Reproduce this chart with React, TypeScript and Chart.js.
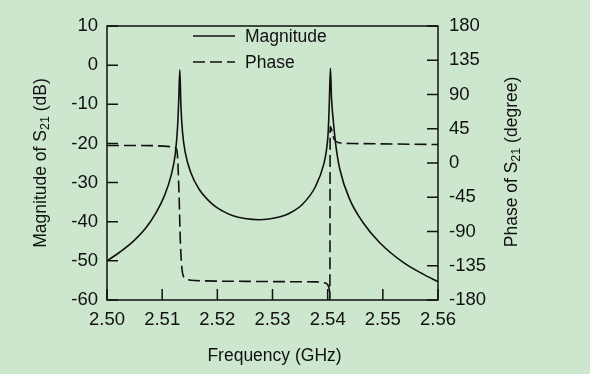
import React, { useEffect, useRef } from "react";
import { Chart, registerables } from "chart.js";

Chart.register(...registerables);

// Frequency (GHz) and |S21| (dB)
const magFreq = [
  2.5, 2.5023, 2.5047, 2.5071, 2.5089, 2.5104, 2.5116, 2.5124, 2.5128, 2.513, 2.5132,
  2.5134, 2.5137, 2.5142, 2.5152, 2.5167, 2.5191, 2.521, 2.5227, 2.525, 2.5276, 2.5294,
  2.5312, 2.533, 2.5354, 2.5378, 2.5393, 2.5398, 2.5401, 2.5403, 2.5405, 2.5407, 2.541,
  2.5415, 2.5422, 2.544, 2.5464, 2.5494, 2.5537, 2.5573, 2.56,
];
const magDb = [
  -50.0, -47.8, -45.1, -41.5, -37.7, -33.4, -28.3, -22.4, -15.6, -9.0, -1.2,
  -10.5, -17.3, -22.4, -27.5, -31.7, -35.5, -37.3, -38.4, -39.2, -39.5, -39.3,
  -38.8, -37.9, -35.6, -31.0, -25.3, -21.5, -17.0, -9.5, -0.8, -8.5, -13.9,
  -20.7, -26.6, -34.3, -40.2, -45.3, -50.4, -53.4, -55.3,
];

// Frequency (GHz) and phase of S21 (degree)
const phaseFreq = [
  2.5, 2.508, 2.5115, 2.5124, 2.5127, 2.51305, 2.5133, 2.51367, 2.5143, 2.5162, 2.525,
  2.535, 2.538, 2.5395, 2.5402, 2.54037, 2.5404, 2.54045, 2.5412, 2.5421, 2.5446, 2.56,
];
const phaseDeg = [
  23.0, 22.8, 21.5, 20.0, 15.6, -38.9, -104, -143.6, -152.3, -154.5, -155.5,
  -156.0, -156.2, -157.6, -163, -174, -180, 48, 30.9, 26.6, 25.6, 24.3,
];

const xTicks = [2.5, 2.51, 2.52, 2.53, 2.54, 2.55, 2.56];
const magTicks = [-60, -50, -40, -30, -20, -10, 0, 10];
const phaseTicks = [-180, -135, -90, -45, 0, 45, 90, 135, 180];

const seriesNames = ["Magnitude", "Phase"];
const xTitle = "Frequency (GHz)";
const magTitle = ["Magnitude of S", "21", " (dB)"];
const phaseTitle = ["Phase of S", "21", " (degree)"];

const FONT = '"Liberation Sans", Arial, Helvetica, sans-serif';
const INK = "#111111";
const BG = "#cde7cf";
const DASH = [12, 5];

function drawSubTitle(ctx: CanvasRenderingContext2D, parts: string[], cx: number, cy: number, rotate: boolean) {
  const big = `17.5px ${FONT}`;
  const small = `12.5px ${FONT}`;
  ctx.save();
  ctx.font = big;
  const w0 = ctx.measureText(parts[0]).width;
  const w2 = ctx.measureText(parts[2]).width;
  ctx.font = small;
  const w1 = ctx.measureText(parts[1]).width;
  const total = w0 + w1 + w2;
  ctx.translate(cx, cy);
  if (rotate) ctx.rotate(-Math.PI / 2);
  ctx.fillStyle = INK;
  ctx.textBaseline = "middle";
  ctx.textAlign = "left";
  let x = -total / 2;
  ctx.font = big;
  ctx.fillText(parts[0], x, 0);
  x += w0;
  ctx.font = small;
  ctx.fillText(parts[1], x, 5);
  x += w1;
  ctx.font = big;
  ctx.fillText(parts[2], x, 0);
  ctx.restore();
}

const framePlugin = {
  id: "frame",
  afterDraw(chart: any) {
    const { ctx, chartArea: ca, scales } = chart;
    ctx.save();
    ctx.strokeStyle = INK;
    ctx.lineWidth = 1.5;
    ctx.setLineDash([]);
    ctx.strokeRect(ca.left, ca.top, ca.right - ca.left, ca.bottom - ca.top);
    const TL = 11;
    ctx.beginPath();
    magTicks.forEach((v) => {
      const y = scales.y.getPixelForValue(v);
      ctx.moveTo(ca.left, y);
      ctx.lineTo(ca.left + TL, y);
    });
    phaseTicks.forEach((v) => {
      const y = scales.y1.getPixelForValue(v);
      ctx.moveTo(ca.right, y);
      ctx.lineTo(ca.right - TL, y);
    });
    xTicks.forEach((v) => {
      const x = scales.x.getPixelForValue(v);
      ctx.moveTo(x, ca.bottom);
      ctx.lineTo(x, ca.bottom - TL);
    });
    ctx.stroke();

    // legend
    const lx0 = ca.left + 86;
    const lx1 = ca.left + 128;
    const ly = [ca.top + 10, ca.top + 36];
    ctx.lineWidth = 1.6;
    ctx.beginPath();
    ctx.moveTo(lx0, ly[0]);
    ctx.lineTo(lx1, ly[0]);
    ctx.stroke();
    ctx.setLineDash(DASH);
    ctx.beginPath();
    ctx.moveTo(lx0, ly[1]);
    ctx.lineTo(lx1, ly[1]);
    ctx.stroke();
    ctx.setLineDash([]);
    ctx.fillStyle = INK;
    ctx.font = `17.5px ${FONT}`;
    ctx.textAlign = "left";
    ctx.textBaseline = "middle";
    ctx.fillText(seriesNames[0], ca.left + 138, ly[0] + 1);
    ctx.fillText(seriesNames[1], ca.left + 138, ly[1] + 1);

    // axis titles
    ctx.textAlign = "center";
    ctx.fillText(xTitle, (ca.left + ca.right) / 2 + 2, 356);
    ctx.restore();
    drawSubTitle(ctx, magTitle, 41, (ca.top + ca.bottom) / 2, true);
    drawSubTitle(ctx, phaseTitle, 512, (ca.top + ca.bottom) / 2 - 1, true);
  },
};

export default function App() {
  const ref = useRef<HTMLCanvasElement>(null);
  useEffect(() => {
    if (!ref.current) return;
    const tickFont = { family: FONT, size: 18.5 };
    const chart = new Chart(ref.current, {
      type: "line",
      data: {
        datasets: [
          {
            label: seriesNames[0],
            data: magFreq.map((f, i) => ({ x: f, y: magDb[i] })),
            borderColor: INK,
            borderWidth: 1.6,
            pointRadius: 0,
            cubicInterpolationMode: "monotone",
            yAxisID: "y",
          },
          {
            label: seriesNames[1],
            data: phaseFreq.map((f, i) => ({ x: f, y: phaseDeg[i] })),
            borderColor: INK,
            borderWidth: 1.6,
            borderDash: DASH,
            pointRadius: 0,
            cubicInterpolationMode: "monotone",
            yAxisID: "y1",
          },
        ],
      },
      options: {
        responsive: false,
        animation: false,
        devicePixelRatio: 1,
        layout: { padding: { top: 26, left: 0, right: 0, bottom: 0 } },
        plugins: { legend: { display: false }, tooltip: { enabled: false } },
        scales: {
          x: {
            type: "linear",
            min: 2.5,
            max: 2.56,
            afterBuildTicks: (s: any) => {
              s.ticks = xTicks.map((v) => ({ value: v }));
            },
            afterFit: (s: any) => {
              s.height = 74;
            },
            grid: { display: false, drawTicks: false },
            border: { display: false },
            ticks: {
              color: INK,
              font: tickFont,
              padding: 9,
              maxRotation: 0,
              autoSkip: false,
              callback: (v: any) => Number(v).toFixed(2),
            },
          },
          y: {
            type: "linear",
            position: "left",
            min: -60,
            max: 10,
            afterBuildTicks: (s: any) => {
              s.ticks = magTicks.map((v) => ({ value: v }));
            },
            afterFit: (s: any) => {
              s.width = 107;
            },
            grid: { display: false, drawTicks: false },
            border: { display: false },
            ticks: { color: INK, font: tickFont, padding: 9, autoSkip: false },
          },
          y1: {
            type: "linear",
            position: "right",
            min: -180,
            max: 180,
            afterBuildTicks: (s: any) => {
              s.ticks = phaseTicks.map((v) => ({ value: v }));
            },
            afterFit: (s: any) => {
              s.width = 152;
            },
            grid: { display: false, drawTicks: false },
            border: { display: false },
            ticks: { color: INK, font: tickFont, padding: 11, autoSkip: false },
          },
        },
      },
      plugins: [framePlugin],
    } as any);
    return () => chart.destroy();
  }, []);
  return (
    <div style={{ position: "absolute", left: 0, top: 0, width: 590, height: 374, background: BG }}>
      <canvas ref={ref} width={590} height={374} style={{ display: "block" }} />
    </div>
  );
}
